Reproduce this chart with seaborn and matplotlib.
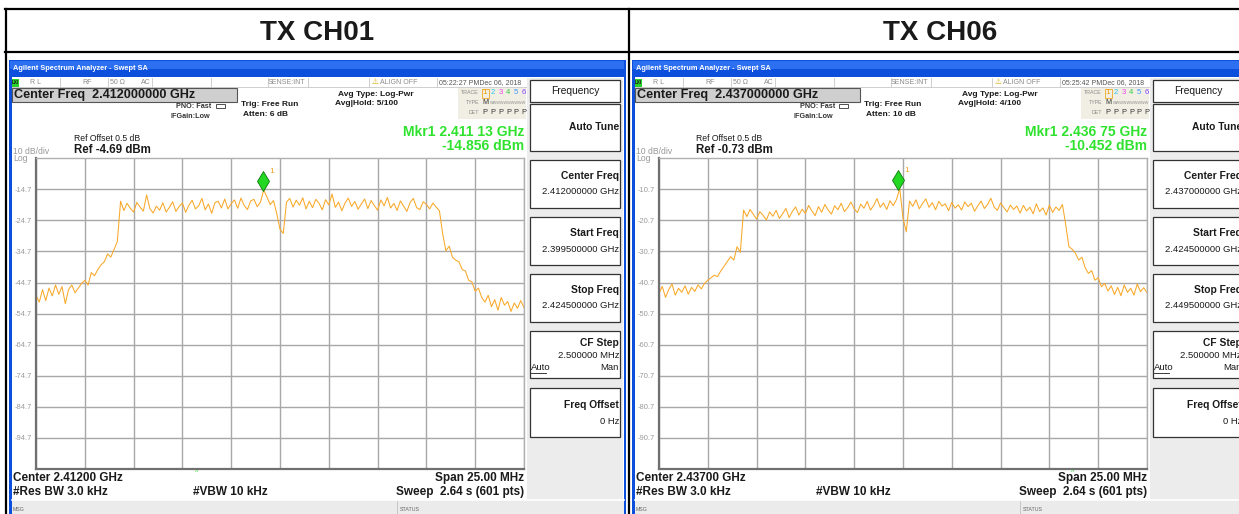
import numpy as np
import matplotlib
matplotlib.use('Agg')
import matplotlib.pyplot as plt
from matplotlib.patches import Rectangle
from matplotlib import transforms
import seaborn as sns

W, H = 1239, 514

# trace levels in dBm (151 samples over the 25 MHz span)
ch01_db = [-48.8, -51.0, -47.0, -50.5, -46.5, -49.0, -45.5, -48.5, -46.0, -51.5, -47.0, -45.5, -48.0, -46.5,
           -45.0, -44.0, -45.5, -41.5, -42.5, -40.5, -39.0, -38.0, -35.5, -36.5, -34.0, -31.5, -18.5,
           -21.5, -19.2, -20.8, -22.0, -18.9, -20.4, -21.7, -16.5, -20.9, -22.3, -20.1, -21.4, -19.0, -22.0,
           -20.5, -18.7, -21.8, -20.2, -19.1, -22.1, -19.8, -18.2, -21.0, -20.0, -17.6, -21.3, -19.4, -22.4, -19.0,
           -18.5, -20.7, -17.8, -21.0, -19.3, -18.1, -20.8, -17.5, -19.9, -21.2, -18.4, -17.9, -20.3, -18.8,
           -14.9, -17.2, -19.6, -18.3,
           -22.5, -27.5, -28.9, -18.8,
           -17.6, -20.4, -18.2, -19.8, -17.4, -21.0, -18.5, -20.6, -17.9, -19.2, -21.3, -18.0, -19.7, -16.2, -20.5,
           -18.8, -21.6, -19.1, -17.5, -20.2, -18.6, -21.1, -19.4, -17.8, -20.9, -18.3, -19.9, -21.4, -18.1, -20.0,
           -17.3, -20.7, -19.2, -21.5, -18.4, -20.1, -21.8, -18.9, -17.6, -20.6, -21.2, -18.7, -19.5, -21.0, -19.1,
           -20.4, -21.6,
           -29.0, -34.5, -33.0, -36.5, -37.5, -38.0, -40.5, -41.0, -44.0, -44.5, -47.5, -46.5, -49.5,
           -51.0, -48.8, -52.5, -50.2, -53.6, -49.5, -52.0, -50.8, -54.0, -51.3, -53.0, -50.5, -52.8]

ch06_db = [-44.2, -42.0, -45.5, -43.0, -41.2, -44.8, -42.6, -43.9, -41.8, -44.5, -42.3, -43.6, -41.5, -42.8,
           -41.0, -40.0, -39.2, -38.4, -38.8, -37.0, -35.5, -34.0, -32.4, -33.5, -29.2, -31.0, -17.4,
           -19.5, -17.2, -18.8, -20.3, -17.9, -19.1, -20.6, -18.0, -19.4, -17.5, -20.1, -18.6, -16.9, -19.8,
           -17.8, -16.4, -19.0, -17.1, -18.5, -15.9, -17.7, -19.2, -16.3, -18.1, -15.6, -17.4, -18.7, -16.0, -17.3,
           -15.2, -17.9, -16.6, -14.8, -17.0, -18.2, -15.5, -16.8, -14.6, -17.4, -15.9, -13.7, -16.5, -15.1,
           -17.2, -14.4, -16.0, -14.0,
           -10.5, -20.0, -24.4, -14.5,
           -16.2, -14.1, -17.0, -15.3, -13.8, -16.5, -15.0, -17.3, -14.6, -16.1, -15.4, -17.6, -14.9, -16.8, -15.7,
           -17.4, -14.8, -16.3, -15.2, -17.8, -16.0, -14.5, -16.9, -15.6, -13.6, -16.4, -17.5, -15.1, -16.6, -18.0,
           -15.8, -17.2, -16.1, -18.4, -15.9, -17.7, -16.5, -18.6, -15.4, -17.9, -16.7, -19.0, -15.8, -18.2, -16.4,
           -17.5, -15.6,
           -22.0, -29.2, -30.0, -31.3, -33.5, -32.6, -36.0, -37.8, -36.9, -40.0, -39.2, -42.1, -41.0,
           -43.5, -41.8, -44.6, -42.3, -45.0, -41.5, -43.9, -42.6, -44.8, -41.2, -43.7, -42.4, -44.0]

panel_titles = ['TX CH01', 'TX CH06']
span_ghz = [(2.3995, 2.4245), (2.4245, 2.4495)]
ref_dbm = [-4.69, -0.73]
mkr_ghz = [2.41113, 2.43675]
mkr_dbm = [-14.856, -10.452]
center_txt = ['2.412000000 GHz', '2.437000000 GHz']
start_txt = ['2.399500000 GHz', '2.424500000 GHz']
stop_txt = ['2.424500000 GHz', '2.449500000 GHz']
clock_txt = ['05:22:27 PMDec 06, 2018', '05:25:42 PMDec 06, 2018']
atten_txt = ['Atten: 6 dB', 'Atten: 10 dB']
hold_txt = ['Avg|Hold: 5/100', 'Avg|Hold: 4/100']
mkr_f_txt = ['Mkr1 2.411 13 GHz', 'Mkr1 2.436 75 GHz']
mkr_v_txt = ['-14.856 dBm', '-10.452 dBm']
bottom_center = ['Center 2.41200 GHz', 'Center 2.43700 GHz']
caret_x = [188, 441]

plt.rcParams['font.family'] = ['Liberation Sans', 'DejaVu Sans']

fig = plt.figure(figsize=(W / 100, H / 100), dpi=100)
cv = fig.add_axes([0, 0, 1, 1])
cv.set_xlim(0, W)
cv.set_ylim(H, 0)
cv.axis('off')


def box(x, y, w, h, fc='white', ec='none', lw=0.0, z=1):
    cv.add_patch(Rectangle((x, y), w, h, facecolor=fc, edgecolor=ec, linewidth=lw, zorder=z))


def put(x, y, s, size, color='#1a1a1a', weight='normal', ha='left', **kw):
    cv.text(x, y, s, fontsize=size, color=color, fontweight=weight, ha=ha, va='center', zorder=5, **kw)


def draw_window(x0, k, db):
    # blue window frame + title bar
    box(x0 - 0.5, 59.5, 617, 470, fc='#0b4fdc', z=1)
    box(x0 + 1, 61, 614, 8, fc='#2c6ff0', z=1)
    box(x0 + 2.5, 77, 612, 440, fc='white', z=1)
    put(x0 + 4, 68.5, 'Agilent Spectrum Analyzer - Swept SA', 5.3, color='white', weight='bold')

    # status row
    cv.plot([x0 + 2.5, x0 + 519], [87, 87], color='#c8c8c8', lw=0.6, zorder=2)
    for sx in [51, 99, 143, 202, 259, 299, 360, 428]:
        cv.plot([x0 + sx, x0 + sx], [77.5, 87], color='#c8c8c8', lw=0.6, zorder=2)
    box(x0 + 3, 78.5, 7, 8, fc='#2bd12b', z=2)
    put(x0 + 6.5, 82.5, 'LXI', 3.3, weight='bold', ha='center')
    grey = '#8a8a8a'
    put(x0 + 21, 82.5, 'R L', 5, color=grey)
    put(x0 + 73, 82.5, 'RF', 5, color=grey)
    put(x0 + 101, 82.5, '50 Ω', 5, color=grey)
    put(x0 + 132, 82.5, 'AC', 5, color=grey)
    put(x0 + 296, 82.5, 'SENSE:INT', 5, color=grey, ha='right')
    put(x0 + 363, 82.3, '⚠', 5.5, color='#d8a800')
    put(x0 + 371, 82.5, 'ALIGN OFF', 5, color=grey)
    put(x0 + 430, 82.5, clock_txt[k], 5, color='#555555')

    # center frequency readout
    box(x0 + 3, 88, 225, 14, fc='#cfcfcf', ec='#555555', lw=0.8, z=2)
    put(x0 + 5, 95.3, 'Center Freq  ' + center_txt[k], 9.1, weight='bold')

    put(x0 + 167.5, 106.5, 'PNO: Fast', 5.2, weight='bold', color='#333333')
    cv.add_patch(Rectangle((x0 + 207, 103.5), 9, 4.5, facecolor='none', edgecolor='#333333', lw=0.6, zorder=3))
    put(x0 + 161.5, 116.5, 'IFGain:Low', 5.2, weight='bold', color='#333333')
    put(x0 + 232, 104, 'Trig: Free Run', 6, weight='bold')
    put(x0 + 234, 115, atten_txt[k], 6, weight='bold')
    put(x0 + 329.5, 94, 'Avg Type: Log-Pwr', 6, weight='bold')
    put(x0 + 326, 103.5, hold_txt[k], 6, weight='bold')

    # trace info block
    box(x0 + 449, 88, 68, 31, fc='#f1eee3', z=2)
    put(x0 + 470, 93, 'TRACE', 3.8, color=grey, ha='right')
    put(x0 + 470, 102.5, 'TYPE', 3.8, color=grey, ha='right')
    put(x0 + 470, 112, 'DET', 3.8, color=grey, ha='right')
    tcols = ['#f29a00', '#33c6f0', '#ee44ee', '#33cc44', '#4499ff', '#8844ff']
    for j in range(6):
        put(x0 + 476 + 7.8 * j, 93, str(j + 1), 5.6, color=tcols[j], ha='center')
        put(x0 + 476 + 7.8 * j, 112, 'P', 5.4, color='#333333', ha='center')
    cv.add_patch(Rectangle((x0 + 472.5, 88.5), 7, 9, facecolor='none', edgecolor='#f29a00', lw=0.5, zorder=3))
    put(x0 + 473, 102.5, 'M', 5.2, color='#333333')
    put(x0 + 480, 102.5, 'wwwwwwwwww', 3.6, color='#999999')

    # marker readout
    put(x0 + 515, 131.5, mkr_f_txt[k], 10.0, color='#2ee22e', ha='right', weight='bold')
    put(x0 + 515, 146, mkr_v_txt[k], 10.0, color='#2ee22e', ha='right', weight='bold')

    put(x0 + 64.5, 138.3, 'Ref Offset 0.5 dB', 6.2)
    put(x0 + 64.5, 150.3, 'Ref %.2f dBm' % ref_dbm[k], 8.3, weight='bold')
    put(x0 + 4, 151.5, '10 dB/div', 6.2, color='#999999')
    put(x0 + 4, 158.5, 'Log', 6.2, color='#999999')

    # bottom settings
    put(x0 + caret_x[k], 472.5, '^', 5, color='#2ee22e', ha='center')
    put(x0 + 4, 478, bottom_center[k], 8.5, weight='bold')
    put(x0 + 4, 492, '#Res BW 3.0 kHz', 8.5, weight='bold')
    put(x0 + 184, 492, '#VBW 10 kHz', 8.5, weight='bold')
    put(x0 + 515, 478, 'Span 25.00 MHz', 8.5, weight='bold', ha='right')
    put(x0 + 515, 492, 'Sweep  2.64 s (601 pts)', 8.5, weight='bold', ha='right')

    box(x0 + 2.5, 500, 612, 20, fc='#ebebeb', z=2)
    cv.plot([x0 + 2.5, x0 + 615], [500, 500], color='white', lw=1.2, zorder=3)
    cv.plot([x0 + 388, x0 + 388], [501, 514], color='#c0c0c0', lw=0.6, zorder=3)
    put(x0 + 4, 509.5, 'MSG', 3.8, color='#666666')
    put(x0 + 391, 509.5, 'STATUS', 3.8, color='#666666')

    # soft keys
    box(x0 + 518, 78, 96, 422, fc='#ececec', z=2)
    keys = [(80, 102), (104, 151), (160, 208), (217, 265), (274, 322), (331, 378), (388, 437)]
    for ky0, ky1 in keys:
        box(x0 + 521, ky0, 90, ky1 - ky0, fc='white', ec='#333333', lw=0.9, z=3)
    rx = x0 + 610
    put(x0 + 566, 90.5, 'Frequency', 7.4, ha='center')
    put(rx, 127, 'Auto Tune', 7.4, weight='bold', ha='right')
    put(rx, 176, 'Center Freq', 7.4, weight='bold', ha='right')
    put(rx, 191, center_txt[k], 6.8, ha='right')
    put(rx, 233, 'Start Freq', 7.4, weight='bold', ha='right')
    put(rx, 249, start_txt[k], 6.8, ha='right')
    put(rx, 290, 'Stop Freq', 7.4, weight='bold', ha='right')
    put(rx, 306, stop_txt[k], 6.8, ha='right')
    put(rx, 343, 'CF Step', 7.4, weight='bold', ha='right')
    put(rx, 355.5, '2.500000 MHz', 6.8, ha='right')
    put(x0 + 522, 368, 'Auto', 6.8)
    cv.plot([x0 + 522, x0 + 537], [372.5, 372.5], color='#1a1a1a', lw=0.6, zorder=5)
    put(rx, 368, 'Man', 6.8, ha='right')
    put(rx, 405, 'Freq Offset', 7.4, weight='bold', ha='right')
    put(rx, 421, '0 Hz', 6.8, ha='right')

    # spectrum graticule
    start, stop = span_ghz[k]
    ref = ref_dbm[k]
    left, top, w, h = x0 + 27, 158.3, 488, 310.5
    ax = fig.add_axes([left / W, 1 - (top + h) / H, w / W, h / H])
    freqs = np.linspace(start, stop, len(db))
    sns.lineplot(x=freqs, y=db, ax=ax, color='#f8a828', linewidth=0.75, estimator=None)
    ax.set_xlim(start, stop)
    ax.set_ylim(ref - 100, ref)
    ax.set_xticks(np.linspace(start, stop, 11))
    yt = [ref - 10 * i for i in range(1, 10)]
    ax.set_yticks(yt)
    ax.set_yticklabels(['%.1f' % v for v in yt])
    ax.tick_params(axis='y', length=0, labelsize=5.4, labelcolor='#9a9a9a', pad=3)
    ax.tick_params(axis='x', length=0, labelbottom=False)
    ax.set_xlabel('')
    ax.set_ylabel('')
    ax.grid(True, color='#a8a8a8', linewidth=1.0)
    ax.set_axisbelow(True)
    for side in ['top', 'right']:
        ax.spines[side].set_color('#b0b0b0')
        ax.spines[side].set_linewidth(1.0)
    for side in ['left', 'bottom']:
        ax.spines[side].set_color('#707070')
        ax.spines[side].set_linewidth(1.6)

    up = transforms.offset_copy(ax.transData, fig=fig, x=0, y=8.5, units='dots')
    ax.plot([mkr_ghz[k]], [mkr_dbm[k]], marker='d', ms=10.6, mfc='#22d822', mec='#0c7a0c',
            mew=0.6, transform=up, clip_on=False, zorder=6)
    lab = transforms.offset_copy(ax.transData, fig=fig, x=6, y=18, units='dots')
    ax.text(mkr_ghz[k], mkr_dbm[k], '1', transform=lab, color='#f0a020', fontsize=6, va='center')


draw_window(9, 0, ch01_db)
draw_window(632, 1, ch06_db)

# outer table with the two headers
for yy in [9.3, 52]:
    cv.plot([5, W], [yy, yy], color='black', lw=1.6, zorder=8)
for xx in [6, 629]:
    cv.plot([xx, xx], [9.3, H], color='black', lw=1.6, zorder=8)
put(317.5, 33, panel_titles[0], 20, weight='bold', ha='center')
put(940, 33, panel_titles[1], 20, weight='bold', ha='center')

fig.savefig('out.png', dpi=100)
